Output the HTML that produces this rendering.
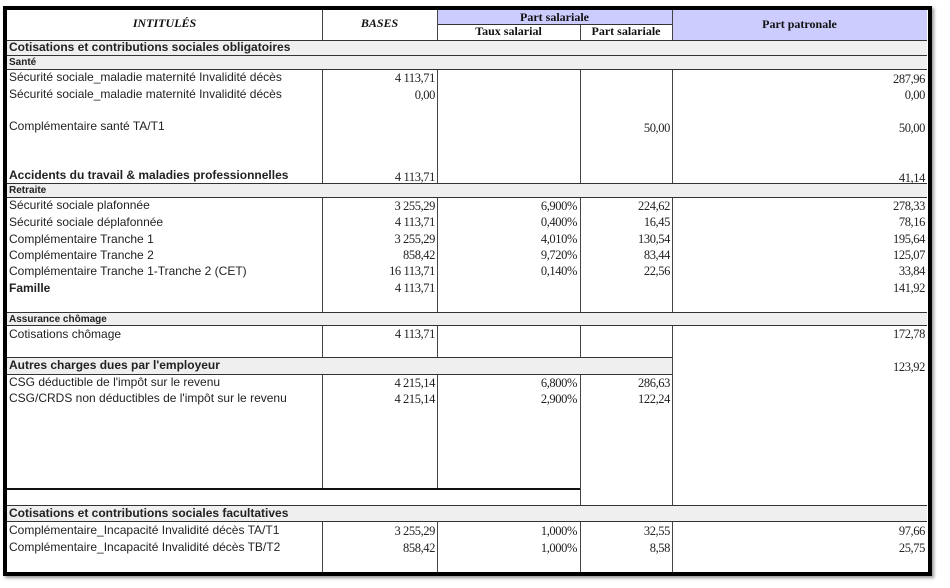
<!DOCTYPE html>
<html><head><meta charset="utf-8"><style>
body{margin:0;width:950px;height:588px;background:#fff;position:relative;overflow:hidden}
div{position:absolute;box-sizing:border-box}
.s{font-family:"Liberation Sans",sans-serif;font-size:12px;color:#222;white-space:nowrap;line-height:13px}
.b{font-weight:bold}
.n{font-family:"Liberation Serif",serif;font-size:12.5px;color:#222;white-space:nowrap;text-align:right;line-height:13px;letter-spacing:-0.4px}
.g{background:#efefef;border-top:1px solid #333;border-bottom:1px solid #333}
.v{width:1px;background:#444}
.h{height:1px;background:#333}
.hd{font-family:"Liberation Serif",serif;font-weight:bold;font-size:12px;text-align:center;color:#111;white-space:nowrap}
</style></head><body>
<div style="left:3px;top:6px;width:929px;height:570px;border:4px solid #000;box-shadow:2px 2px 3px #999"></div>
<div style="left:437px;top:10px;width:235px;height:15px;background:#ccccff;border-bottom:1px solid #333"></div>
<div style="left:672px;top:10px;width:255px;height:30px;background:#ccccff"></div>
<div class="h" style="left:7px;top:40px;width:920px"></div>
<div class="hd" style="left:7px;top:16px;width:315px;font-style:italic">INTITULÉS</div>
<div class="hd" style="left:322px;top:16px;width:115px;font-style:italic">BASES</div>
<div class="hd" style="left:437px;top:10px;width:235px">Part salariale</div>
<div class="hd" style="left:437px;top:24px;width:143px">Taux salarial</div>
<div class="hd" style="left:580px;top:24px;width:92px">Part salariale</div>
<div class="hd" style="left:672px;top:17px;width:255px">Part patronale</div>
<div class="v" style="left:322px;top:10px;height:30px"></div>
<div class="v" style="left:437px;top:10px;height:30px"></div>
<div class="v" style="left:580px;top:25px;height:15px"></div>
<div class="v" style="left:672px;top:10px;height:30px"></div>
<div class="g" style="left:7px;top:40px;width:920px;height:16px"></div>
<div class="g" style="left:7px;top:55px;width:920px;height:15px"></div>
<div class="g" style="left:7px;top:183px;width:920px;height:15px"></div>
<div class="g" style="left:7px;top:312px;width:920px;height:14px"></div>
<div class="g" style="left:7px;top:357px;width:665px;height:18px"></div>
<div class="g" style="left:7px;top:505px;width:920px;height:17px"></div>
<div class="h" style="left:7px;top:488px;width:573px;height:2px;background:#111"></div>
<div class="v" style="left:322px;top:70px;height:113px"></div>
<div class="v" style="left:437px;top:70px;height:113px"></div>
<div class="v" style="left:580px;top:70px;height:113px"></div>
<div class="v" style="left:672px;top:70px;height:113px"></div>
<div class="v" style="left:322px;top:198px;height:114px"></div>
<div class="v" style="left:437px;top:198px;height:114px"></div>
<div class="v" style="left:580px;top:198px;height:114px"></div>
<div class="v" style="left:672px;top:198px;height:114px"></div>
<div class="v" style="left:322px;top:326px;height:31px"></div>
<div class="v" style="left:437px;top:326px;height:31px"></div>
<div class="v" style="left:580px;top:326px;height:31px"></div>
<div class="v" style="left:672px;top:326px;height:179px"></div>
<div class="v" style="left:322px;top:375px;height:113px"></div>
<div class="v" style="left:437px;top:375px;height:113px"></div>
<div class="v" style="left:580px;top:375px;height:130px"></div>
<div class="v" style="left:322px;top:522px;height:50px"></div>
<div class="v" style="left:437px;top:522px;height:50px"></div>
<div class="v" style="left:580px;top:522px;height:50px"></div>
<div class="v" style="left:672px;top:522px;height:50px"></div>
<div class="s b" style="left:9px;top:41px;font-size:12px">Cotisations et contributions sociales obligatoires</div>
<div class="s b" style="left:9px;top:56px;font-size:10px">Santé</div>
<div class="s b" style="left:9px;top:184px;font-size:10px">Retraite</div>
<div class="s b" style="left:9px;top:313px;font-size:10px">Assurance chômage</div>
<div class="s b" style="left:9px;top:359px;font-size:12px">Autres charges dues par l'employeur</div>
<div class="s b" style="left:9px;top:507px;font-size:12px">Cotisations et contributions sociales facultatives</div>
<div class="s" style="left:9px;top:71px">Sécurité sociale_maladie maternité Invalidité décès</div>
<div class="s" style="left:9px;top:88px">Sécurité sociale_maladie maternité Invalidité décès</div>
<div class="s" style="left:9px;top:120px">Complémentaire santé TA/T1</div>
<div class="s b" style="left:9px;top:169px">Accidents du travail &amp; maladies professionnelles</div>
<div class="s" style="left:9px;top:199px">Sécurité sociale plafonnée</div>
<div class="s" style="left:9px;top:216px">Sécurité sociale déplafonnée</div>
<div class="s" style="left:9px;top:233px">Complémentaire Tranche 1</div>
<div class="s" style="left:9px;top:249px">Complémentaire Tranche 2</div>
<div class="s" style="left:9px;top:265px">Complémentaire Tranche 1-Tranche 2 (CET)</div>
<div class="s b" style="left:9px;top:282px">Famille</div>
<div class="s" style="left:9px;top:328px">Cotisations chômage</div>
<div class="s" style="left:9px;top:376px">CSG déductible de l'impôt sur le revenu</div>
<div class="s" style="left:9px;top:392px">CSG/CRDS non déductibles de l'impôt sur le revenu</div>
<div class="s" style="left:9px;top:524px">Complémentaire_Incapacité Invalidité décès TA/T1</div>
<div class="s" style="left:9px;top:541px">Complémentaire_Incapacité Invalidité décès TB/T2</div>
<div class="n" style="left:337px;width:98px;top:72px">4 113,71</div>
<div class="n" style="left:337px;width:98px;top:89px">0,00</div>
<div class="n" style="left:337px;width:98px;top:171px">4 113,71</div>
<div class="n" style="left:337px;width:98px;top:200px">3 255,29</div>
<div class="n" style="left:337px;width:98px;top:216px">4 113,71</div>
<div class="n" style="left:337px;width:98px;top:233px">3 255,29</div>
<div class="n" style="left:337px;width:98px;top:249px">858,42</div>
<div class="n" style="left:337px;width:98px;top:265px">16 113,71</div>
<div class="n" style="left:337px;width:98px;top:282px">4 113,71</div>
<div class="n" style="left:337px;width:98px;top:328px">4 113,71</div>
<div class="n" style="left:337px;width:98px;top:377px">4 215,14</div>
<div class="n" style="left:337px;width:98px;top:393px">4 215,14</div>
<div class="n" style="left:337px;width:98px;top:525px">3 255,29</div>
<div class="n" style="left:337px;width:98px;top:542px">858,42</div>
<div class="n" style="left:480px;width:97px;top:200px">6,900%</div>
<div class="n" style="left:480px;width:97px;top:216px">0,400%</div>
<div class="n" style="left:480px;width:97px;top:233px">4,010%</div>
<div class="n" style="left:480px;width:97px;top:249px">9,720%</div>
<div class="n" style="left:480px;width:97px;top:265px">0,140%</div>
<div class="n" style="left:480px;width:97px;top:377px">6,800%</div>
<div class="n" style="left:480px;width:97px;top:393px">2,900%</div>
<div class="n" style="left:480px;width:97px;top:525px">1,000%</div>
<div class="n" style="left:480px;width:97px;top:542px">1,000%</div>
<div class="n" style="left:580px;width:90px;top:122px">50,00</div>
<div class="n" style="left:580px;width:90px;top:200px">224,62</div>
<div class="n" style="left:580px;width:90px;top:216px">16,45</div>
<div class="n" style="left:580px;width:90px;top:233px">130,54</div>
<div class="n" style="left:580px;width:90px;top:249px">83,44</div>
<div class="n" style="left:580px;width:90px;top:265px">22,56</div>
<div class="n" style="left:580px;width:90px;top:377px">286,63</div>
<div class="n" style="left:580px;width:90px;top:393px">122,24</div>
<div class="n" style="left:580px;width:90px;top:525px">32,55</div>
<div class="n" style="left:580px;width:90px;top:542px">8,58</div>
<div class="n" style="left:700px;width:225px;top:73px">287,96</div>
<div class="n" style="left:700px;width:225px;top:89px">0,00</div>
<div class="n" style="left:700px;width:225px;top:122px">50,00</div>
<div class="n" style="left:700px;width:225px;top:172px">41,14</div>
<div class="n" style="left:700px;width:225px;top:200px">278,33</div>
<div class="n" style="left:700px;width:225px;top:216px">78,16</div>
<div class="n" style="left:700px;width:225px;top:233px">195,64</div>
<div class="n" style="left:700px;width:225px;top:249px">125,07</div>
<div class="n" style="left:700px;width:225px;top:265px">33,84</div>
<div class="n" style="left:700px;width:225px;top:282px">141,92</div>
<div class="n" style="left:700px;width:225px;top:328px">172,78</div>
<div class="n" style="left:700px;width:225px;top:361px">123,92</div>
<div class="n" style="left:700px;width:225px;top:525px">97,66</div>
<div class="n" style="left:700px;width:225px;top:542px">25,75</div>
</body></html>
